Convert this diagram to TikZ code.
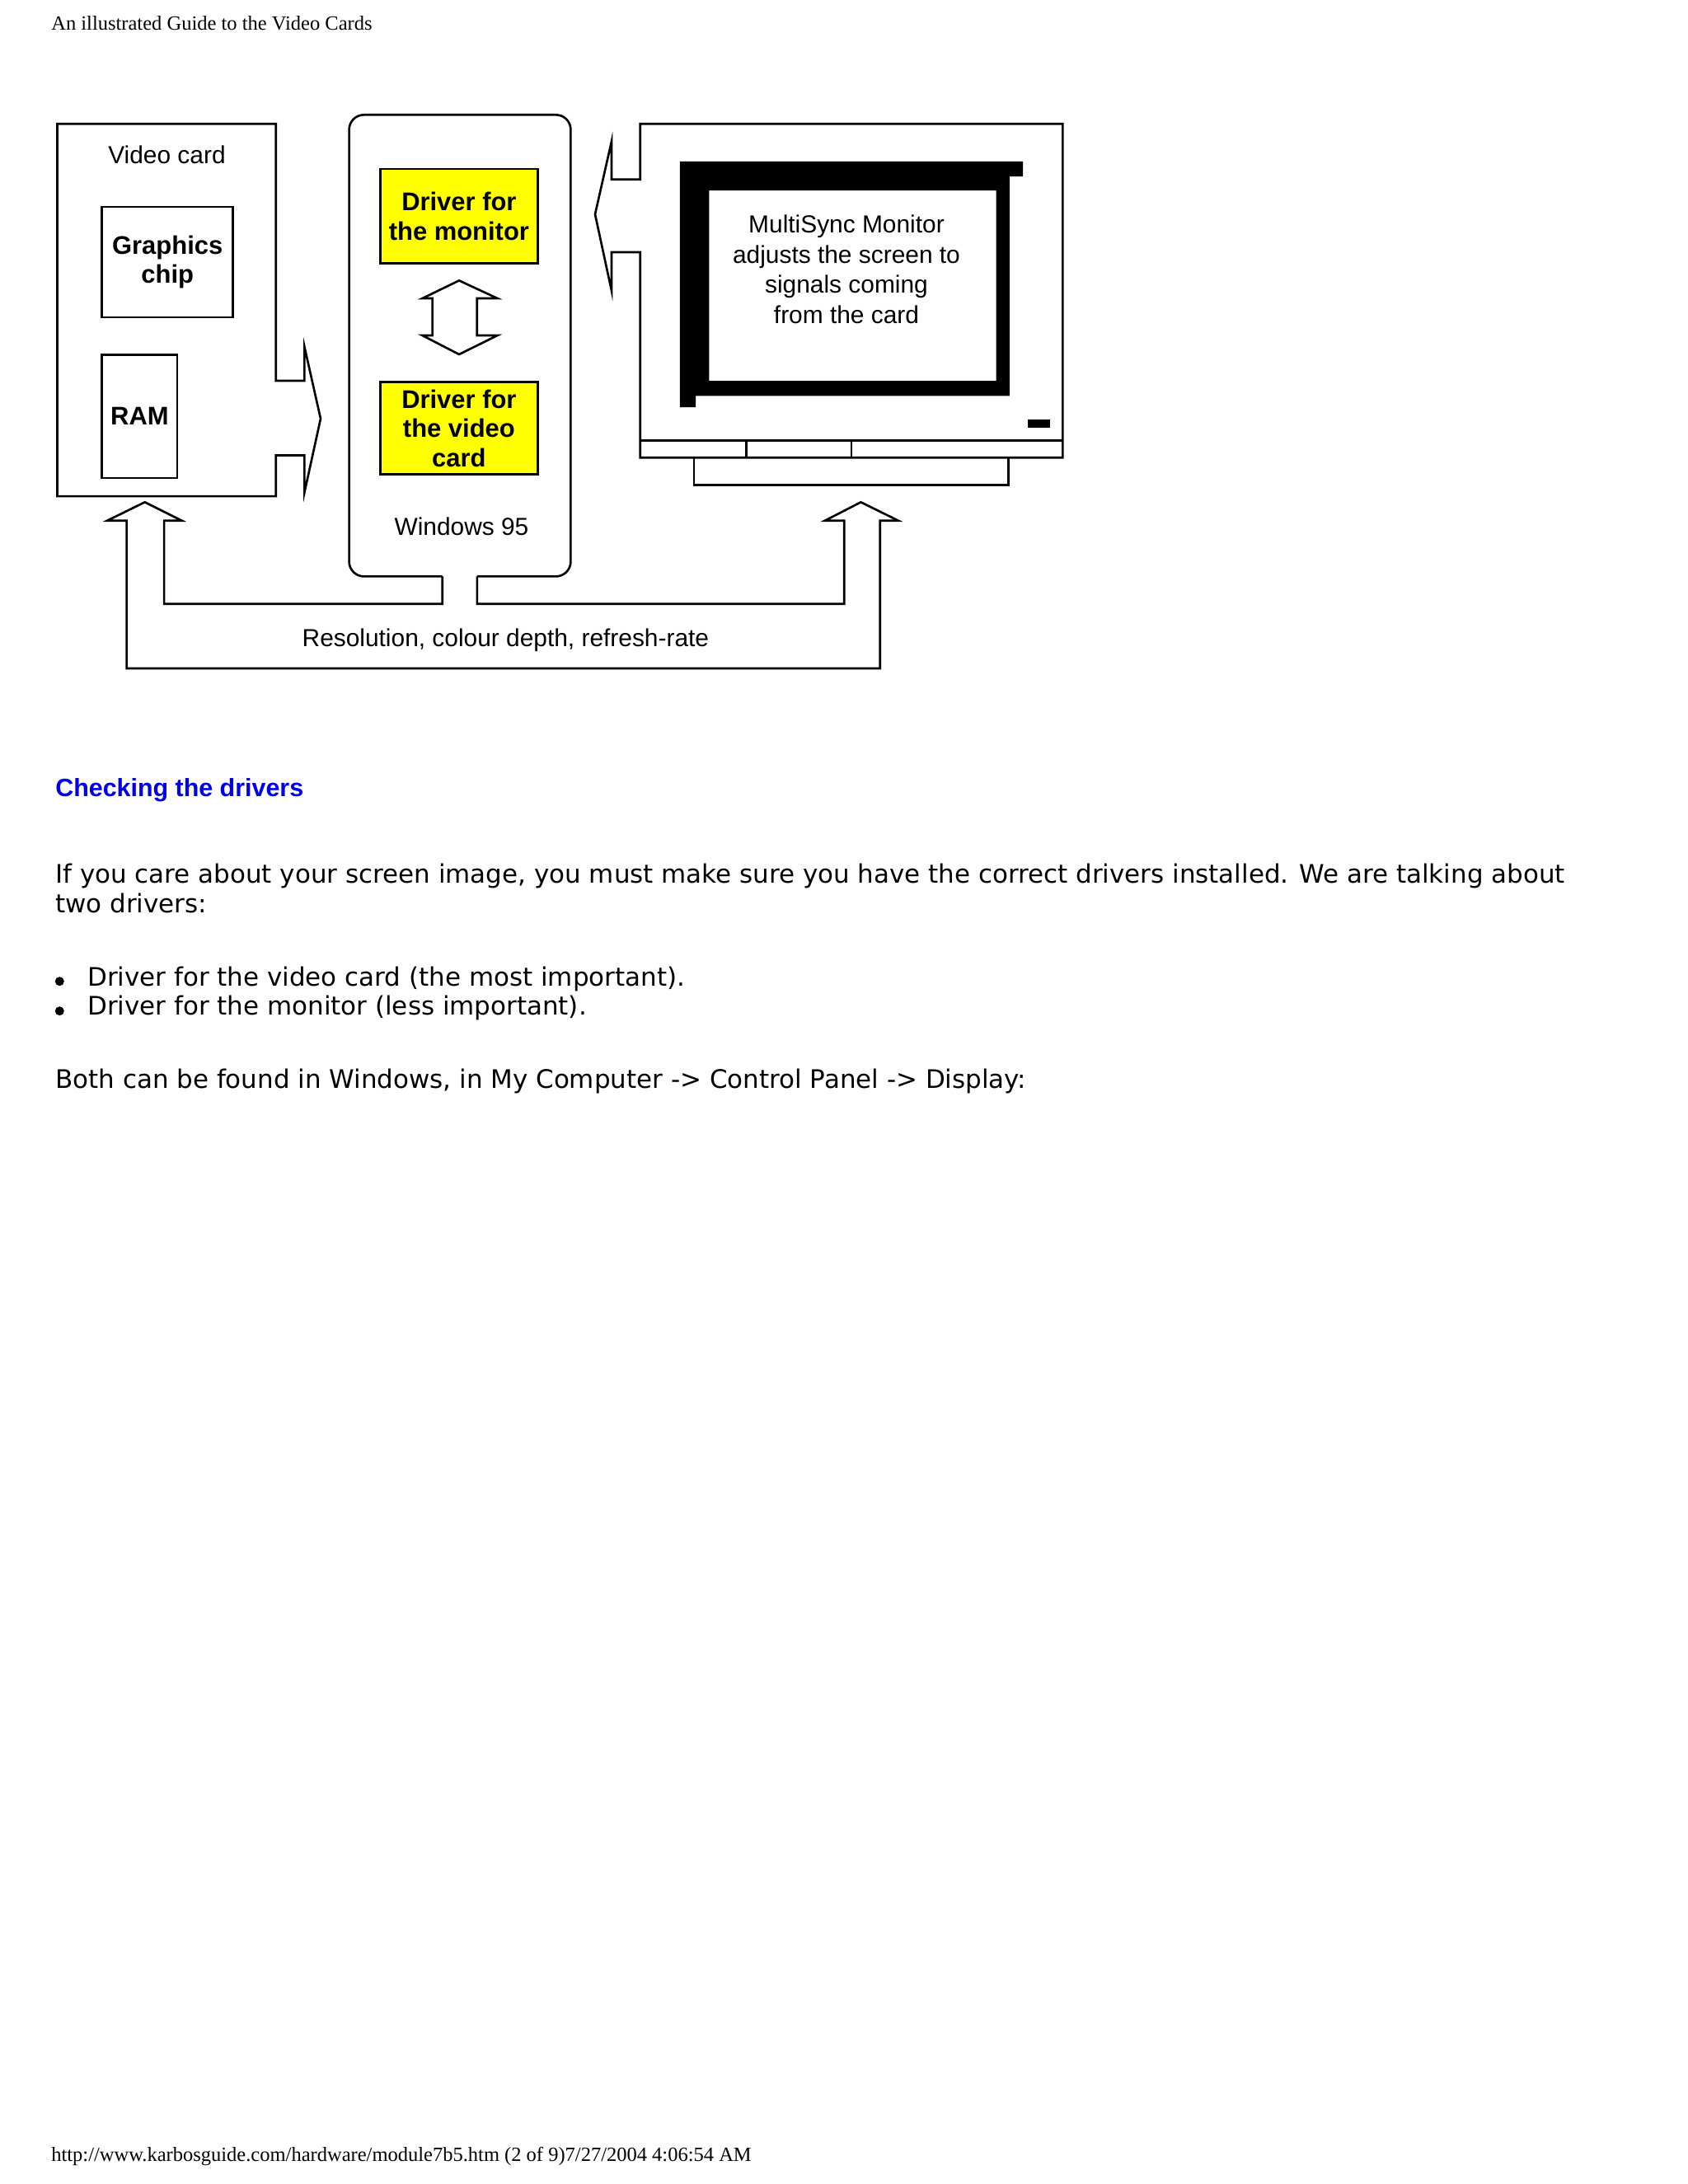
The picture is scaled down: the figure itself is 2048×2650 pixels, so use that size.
\documentclass[tikz,border=0pt]{standalone}
\usepackage{fontspec}
\setmainfont{Liberation Serif}
\setsansfont{Liberation Sans}
\newfontfamily\bodyfont{DejaVu Sans}
\usetikzlibrary{positioning,calc}
\definecolor{drvyellow}{RGB}{255,255,0}
\definecolor{headblue}{RGB}{0,0,235}

\begin{document}
\begin{tikzpicture}[x=0.01cm, y=-0.01cm, line width=0.75pt,
  lbl/.style={font=\sffamily\fontsize{8.5}{10.4}\selectfont, align=center, inner sep=0pt},
  boldlbl/.style={font=\sffamily\bfseries\fontsize{8.8}{10.1}\selectfont, align=center, inner sep=0pt},
  part/.style={draw, boldlbl, minimum width=1.59cm, minimum height=1.34cm},
  drvbox/.style={draw, fill=drvyellow, boldlbl, minimum width=1.912cm},
  txt/.style={anchor=base west, inner sep=0pt, font=\bodyfont\fontsize{8.8}{10.1}\selectfont},
  pagetxt/.style={anchor=base west, inner sep=0pt, font=\rmfamily\fontsize{6.97}{8}\selectfont},
  bulletdot/.style={circle, fill, inner sep=0pt, minimum size=0.11cm},
]
\fill[white] (0,0) rectangle (2048,2650);
\useasboundingbox (0,0) rectangle (2048,2650);

% video card with its arrow
\draw (369.4,462) -- (334.8,462) -- (334.8,150.3) -- (69.5,150.3) -- (69.5,602.1) -- (334.8,602.1)
  -- (334.8,552.5) -- (369.4,552.5) -- (369.4,597.5) -- (389,508) -- (369.4,420.7) -- cycle;

% windows box and the feedback arrows
\draw[rounded corners=0.18cm] (536.7,699.4) -- (423.6,699.4) -- (423.6,139.3) -- (692.4,139.3)
  -- (692.4,699.4) -- (578.9,699.4);
\draw (536.7,699.4) -- (536.7,732.7) -- (199.1,732.7) -- (199.1,631.7) -- (220.6,631.7) -- (175.7,609.3)
  -- (130.1,631.7) -- (153.6,631.7) -- (153.6,811) -- (1067.8,811) -- (1067.8,631.7) -- (1089.9,631.7)
  -- (1044.4,609.3) -- (1000.9,631.7) -- (1024.3,631.7) -- (1024.3,732.7) -- (578.9,732.7) -- (578.9,699.4);
\draw (557,340.4) -- (603.5,362) -- (578.8,362) -- (578.8,407) -- (603.5,407) -- (557,430)
  -- (512.5,407) -- (524.6,407) -- (524.6,362) -- (512.5,362) -- cycle;

% monitor
\draw (776.7,217.8) -- (776.7,150.3) -- (1289.4,150.3) -- (1289.4,555.3) -- (776.7,555.3) -- (776.7,306)
  -- (742,306) -- (742,352.8) -- (722,260) -- (742,171.4) -- (742,217.8) -- cycle;
\draw (776.7,534.6) -- (1289.4,534.6);
\draw (905.3,534.6) -- (905.3,555.3) (1033.1,534.6) -- (1033.1,555.3);
\draw (842,555.3) -- (842,588.3) -- (1223.7,588.3) -- (1223.7,555.3);
\fill[even odd rule] (824.9,195.8) -- (1241.2,195.8) -- (1241.2,214.1) -- (1224.9,214.1) -- (1224.9,480.4)
  -- (844.1,480.4) -- (844.1,494.2) -- (824.9,494.2) -- cycle (860.4,231.1) rectangle (1208.6,462.1);
\fill (1246.6,509.2) rectangle (1274,518.7);

\node[pagetxt] (title) at (61,36.5) {An illustrated Guide to the Video Cards};
\node[lbl] (cardlbl) at (202.5,188) {Video card};
\node[part] (chip) at (203.2,317.9) {Graphics\\chip};
\node[part, minimum width=0.914cm, minimum height=1.496cm] (ram) at (169.4,505.2) {RAM};
\node[drvbox, minimum height=1.147cm] (drvmon) at (556.9,262.4) {Driver for\\the monitor};
\node[drvbox, minimum height=1.121cm] (drvcard) at (556.9,519.5) {Driver for\\the video\\card};
\node[lbl] (winlbl) at (560,638.8) {Windows 95};
\node[lbl] (monlbl) at (1027,326.6) {MultiSync Monitor\\adjusts the screen to\\signals coming\\from the card};
\node[lbl] (reslbl) at (613.4,776.7) {Resolution, colour depth, refresh-rate};

\node[txt, font=\sffamily\bfseries\fontsize{8.65}{10}\selectfont, text=headblue] (head) at (66,966) {Checking the drivers};
\node[txt] (para1) at (66,1071.5) {If you care about your screen image, you must make sure you have the correct drivers installed. We are talking about};
\node[txt] (para2) at (66,1107) {two drivers:};
\node[bulletdot] (dot1) at (72.3,1190.7) {};
\node[txt] (item1) at (105,1196) {Driver for the video card (the most important).};
\node[bulletdot] (dot2) at (72.3,1226.7) {};
\node[txt] (item2) at (105,1231.5) {Driver for the monitor (less important).};
\node[txt] (para3) at (66,1320) {Both can be found in Windows, in My Computer -> Control Panel -> Display:};
\node[pagetxt] (footer) at (61,2622) {http://www.karbosguide.com/hardware/module7b5.htm (2 of 9)7/27/2004 4:06:54 AM};
\end{tikzpicture}
\end{document}
